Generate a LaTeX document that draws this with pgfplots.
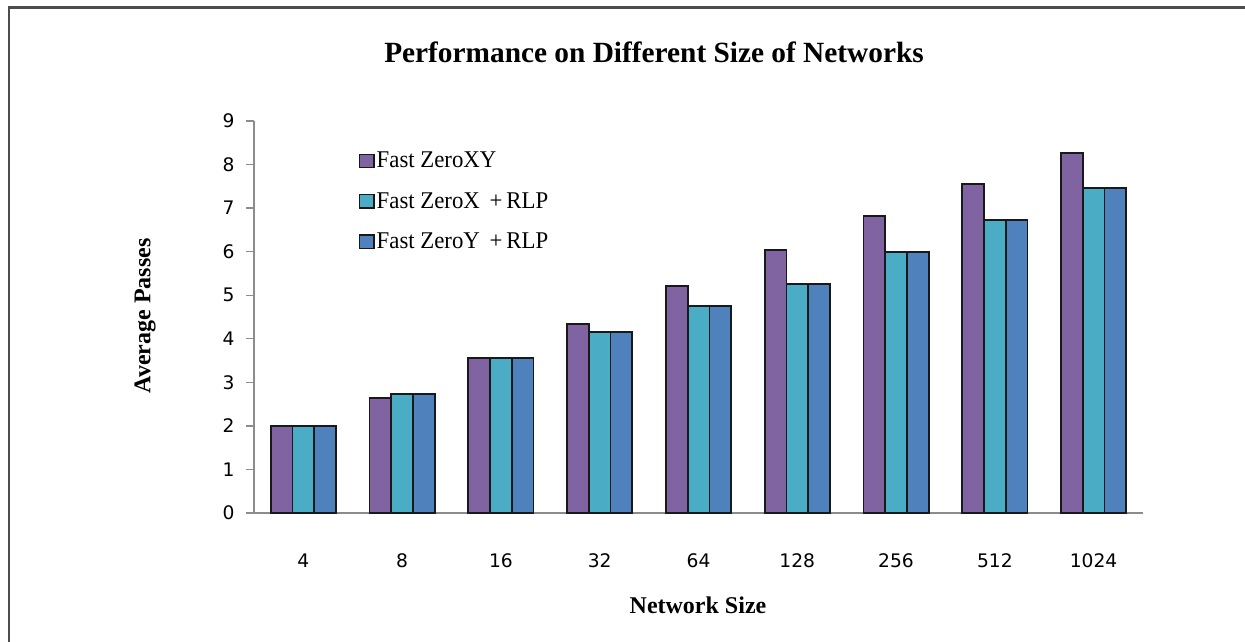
\documentclass[border=0pt]{standalone}
\usepackage{fontspec}
\setmainfont{Liberation Serif}
\newfontfamily\tickfont{DejaVu Sans}
\newfontfamily\condserif[FakeStretch=0.95]{Liberation Serif}
\usepackage{pgfplots}
\pgfplotsset{compat=1.18}
\definecolor{cpurple}{HTML}{8064A2}
\definecolor{cteal}{HTML}{4BACC6}
\definecolor{cblue}{HTML}{4F81BD}
\begin{document}
\begin{tikzpicture}
\useasboundingbox (0,0) rectangle (933.75pt,481.5pt);
\draw[line width=2.2pt, black!70] (6.75pt,-2pt) -- (6.75pt,476pt) -- (936pt,476pt);
\node[font=\bfseries\fontsize{22}{24}\selectfont] at (490.5pt,442.5pt) {Performance on Different Size of Networks};
\node[font=\bfseries\fontsize{18}{20}\selectfont] at (523.5pt,27.75pt) {Network Size};
\node[font=\bfseries\fontsize{18}{20}\selectfont, rotate=90] at (108.75pt,244.5pt) {Average Passes};
\begin{axis}[
  at={(190.5pt,96.75pt)}, anchor=south west,
  scale only axis, width=666.75pt, height=294pt,
  ybar=0pt, bar width=16.3pt,
  xmin=-0.5, xmax=8.5, ymin=0, ymax=9,
  xtick=data, xticklabels={4,8,16,32,64,128,256,512,1024},
  ytick={0,1,2,3,4,5,6,7,8,9},
  axis x line*=bottom, axis y line*=left,
  axis line style={black!45, line width=1.2pt},
  x tick style={draw=none},
  y tick style={black!45, line width=1pt},
  tick align=outside, major tick length=6pt,
  /pgf/number format/assume math mode=true,
  ticklabel style={font=\tickfont\fontsize{14}{14}\selectfont},
  xticklabel style={yshift=-21pt},
  yticklabel style={xshift=-5pt},
  legend style={at={(0.113,0.935)}, anchor=north west, draw=none, fill=none,
    font=\condserif\fontsize{18}{20}\selectfont, row sep=13pt, legend cell align=left,
    /tikz/every even column/.append style={column sep=0pt},
    nodes={inner xsep=1.5pt}},
  legend image code/.code={\draw[#1, line width=1pt] (0pt,-5pt) rectangle (11pt,5pt);},
  every axis plot/.append style={draw=black!90, line width=1.3pt},
  clip=false,
]
\addplot[fill=cpurple] coordinates {(0,2.00) (1,2.64) (2,3.56) (3,4.34) (4,5.21) (5,6.04) (6,6.82) (7,7.55) (8,8.26)};
\addplot[fill=cteal] coordinates {(0,2.00) (1,2.73) (2,3.56) (3,4.16) (4,4.75) (5,5.26) (6,5.99) (7,6.73) (8,7.46)};
\addplot[fill=cblue] coordinates {(0,2.00) (1,2.73) (2,3.56) (3,4.16) (4,4.75) (5,5.26) (6,5.99) (7,6.73) (8,7.46)};
\legend{Fast ZeroXY, Fast ZeroX\ \,+\,RLP, Fast ZeroY\ \,+\,RLP}
\end{axis}
\end{tikzpicture}
\end{document}
